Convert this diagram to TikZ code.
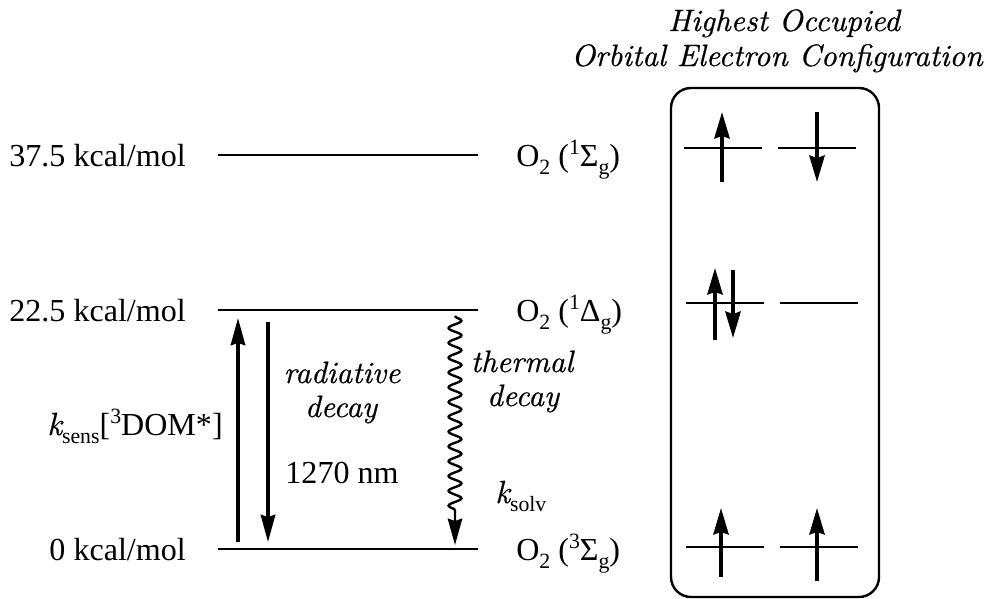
\documentclass[tikz,border=0pt]{standalone}
\usepackage{fontspec}
\setmainfont{Liberation Serif}
\newfontfamily\itf{lmroman10-italic.otf}[FakeBold=0.6]
\usetikzlibrary{arrows.meta,decorations.pathmorphing}
\newcommand{\lowtxt}[1]{\raisebox{-0.26em}{\fontsize{15.5}{16}\selectfont #1}}
\newcommand{\hightxt}[1]{\raisebox{0.36em}{\fontsize{15.5}{16}\selectfont #1}}
\begin{document}
\begin{tikzpicture}[x=0.025cm,y=-0.025cm,
  txt/.style={inner sep=0pt, font=\fontsize{22.8}{27}\selectfont},
  itx/.style={inner sep=0pt, font=\itf\fontsize{22}{27}\selectfont},
  levelline/.style={line width=2pt},
  orbline/.style={line width=1.6pt},
  bigarr/.style={line width=2.5pt, -{Stealth[length=0.68cm,width=0.36cm,inset=0.06cm]}},
  orbarr/.style={line width=2.5pt, -{Stealth[length=0.66cm,width=0.38cm,inset=0.06cm]}},
  wavyarr/.style={line width=1.7pt, -{Stealth[length=0.66cm,width=0.36cm,inset=0.06cm]},
    decorate, decoration={snake, amplitude=0.16cm, segment length=0.37cm, post length=0.85cm}},
  framebox/.style={line width=1.7pt, rounded corners=0.5cm}]
\useasboundingbox (0,0) rectangle (992,598);

% energy levels
\coordinate (l3a) at (218,155); \coordinate (l3b) at (478,155);
\coordinate (l2a) at (218,310); \coordinate (l2b) at (478,310);
\coordinate (l1a) at (218,549); \coordinate (l1b) at (478,549);
\draw[levelline] (l3a) -- (l3b);
\draw[levelline] (l2a) -- (l2b);
\draw[levelline] (l1a) -- (l1b);

% left labels
\node[txt, anchor=base east] (e3) at (186,166) {37.5 kcal/mol};
\node[txt, anchor=base east] (e2) at (186,321) {22.5 kcal/mol};
\node[txt, anchor=base east] (e1) at (186,560) {0 kcal/mol};

% state labels
\node[txt, anchor=base west] (s3) at (516,166) {O\lowtxt{2} (\hightxt{1}Σ\lowtxt{g})};
\node[txt, anchor=base west] (s2) at (516,321) {O\lowtxt{2} (\hightxt{1}Δ\lowtxt{g})};
\node[txt, anchor=base west] (s1) at (516,560) {O\lowtxt{2} (\hightxt{3}Σ\lowtxt{g})};

% transitions
\coordinate (u0) at (238,542); \coordinate (u1) at (238,318);
\coordinate (d0) at (268,322); \coordinate (d1) at (268,542);
\coordinate (w0) at (455,316); \coordinate (w1) at (455,545);
\draw[bigarr] (u0) -- (u1);
\draw[bigarr] (d0) -- (d1);
\draw[wavyarr] (w0) -- (w1);

\node[itx, anchor=base] (rad) at (342,383) {radiative};
\node[itx, anchor=base] (dec1) at (341,417) {decay};
\node[txt, anchor=base] (nm) at (342,483) {1270 nm};
\node[itx, anchor=base] (th) at (522,372) {thermal};
\node[itx, anchor=base] (dec2) at (523,406) {decay};
\node[txt, anchor=base west] (ks) at (495,503) {{\itf k}\lowtxt{solv}};
\node[txt, anchor=base east] (kse) at (223,435) {{\itf k}\lowtxt{sens}[\hightxt{3}DOM*]};

% title
\node[itx, anchor=base] (t1) at (784,31) {Highest Occupied};
\node[itx, anchor=base] (t2) at (777,66) {Orbital Electron Conf{}iguration};

% orbital box
\coordinate (b0) at (671,88); \coordinate (b1) at (879,597);
\draw[framebox] (b0) rectangle (b1);

% orbital lines
\coordinate (o3a) at (684,148); \coordinate (o3b) at (762,148);
\coordinate (o3c) at (778,148); \coordinate (o3d) at (856,148);
\coordinate (o2a) at (686,303); \coordinate (o2b) at (764,303);
\coordinate (o2c) at (780,303); \coordinate (o2d) at (858,303);
\coordinate (o1a) at (686,547); \coordinate (o1b) at (764,547);
\coordinate (o1c) at (780,547); \coordinate (o1d) at (858,547);
\draw[orbline] (o3a) -- (o3b);
\draw[orbline] (o3c) -- (o3d);
\draw[orbline] (o2a) -- (o2b);
\draw[orbline] (o2c) -- (o2d);
\draw[orbline] (o1a) -- (o1b);
\draw[orbline] (o1c) -- (o1d);

% spins
\coordinate (a1s) at (722,182); \coordinate (a1e) at (722,112);
\coordinate (a2s) at (817,112); \coordinate (a2e) at (817,182);
\coordinate (a3s) at (715,340); \coordinate (a3e) at (715,268);
\coordinate (a4s) at (733,270); \coordinate (a4e) at (733,338);
\coordinate (a5s) at (721,577); \coordinate (a5e) at (721,508);
\coordinate (a6s) at (817,581); \coordinate (a6e) at (817,508);
\draw[orbarr] (a1s) -- (a1e);
\draw[orbarr] (a2s) -- (a2e);
\draw[orbarr] (a3s) -- (a3e);
\draw[orbarr] (a4s) -- (a4e);
\draw[orbarr] (a5s) -- (a5e);
\draw[orbarr] (a6s) -- (a6e);
\end{tikzpicture}
\end{document}
